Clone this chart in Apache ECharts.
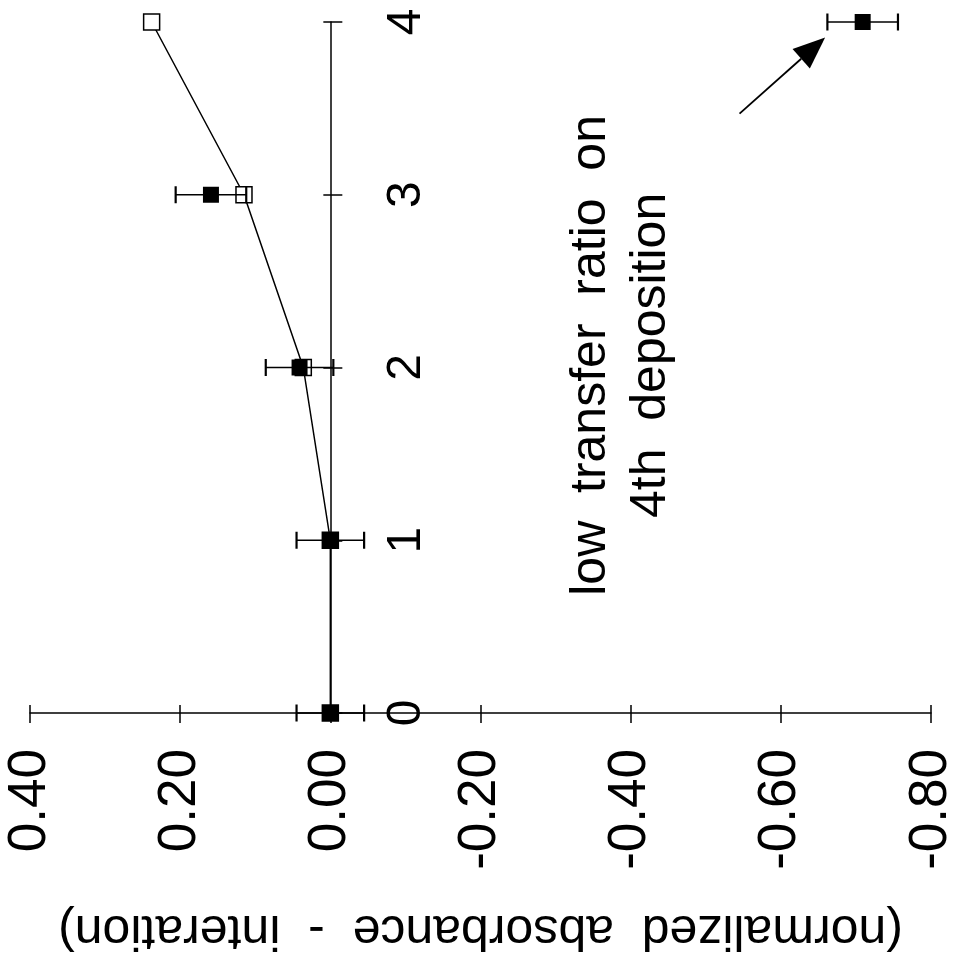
<!DOCTYPE html>
<html>
<head>
<meta charset="utf-8">
<script src="https://cdn.jsdelivr.net/npm/echarts@6/dist/echarts.min.js"></script>
<style>
  html, body { margin: 0; padding: 0; background: #fff; }
  #chart { width: 959px; height: 962px; }
</style>
</head>
<body>
<div id="chart"></div>
<script>
// Deposition number (0..4)
const depositions = [0, 1, 2, 3, 4];
// Expected values (open squares, joined by a line)
const expected = [0.000, 0.000, 0.036, 0.115, 0.238];
// Measured values (filled squares) and their error half-widths
const measured = [0.000, 0.000, 0.041, 0.159, -0.709];
const measuredErr = [0.045, 0.045, 0.045, 0.047, 0.047];
// Annotation anchor and arrow ends, in data units [value, deposition]
const noteAnchor = [-0.387, 2.07];
const arrowTail = [-0.545, 3.47];
const arrowHead = [-0.659, 3.91];

const FONT = 'Liberation Sans';
const BLACK = '#000';

// Plot area and value range
const W = 959, H = 962;
const GRID = { left: 30, right: 28, top: 22, bottom: 249 };
const VMIN = -0.8, VMAX = 0.4;
// The deposition axis is drawn where the value axis passes 0; with the value
// axis inverted, 0 sits (VMAX - 0) / (VMAX - VMIN) of the way from the left.
const plotW = W - GRID.left - GRID.right;
const zeroPx = GRID.left + plotW * (VMAX - 0) / (VMAX - VMIN);
const depAxisOffset = zeroPx - (W - GRID.right);

const chart = echarts.init(document.getElementById('chart'), null, { renderer: 'canvas' });

const valueAxisBase = {
  type: 'value',
  min: VMIN,
  max: VMAX,
  interval: 0.2,
  inverse: true,
  splitLine: { show: false }
};
const depAxisBase = {
  type: 'value',
  min: 0,
  max: 4,
  interval: 1,
  position: 'right',
  offset: depAxisOffset,
  splitLine: { show: false }
};

chart.setOption({
  animation: false,
  backgroundColor: '#fff',
  grid: Object.assign({ containLabel: false, outerBoundsMode: 'none' }, GRID),
  xAxis: [
    Object.assign({}, valueAxisBase, {
      position: 'bottom',
      axisLine: { onZero: false, lineStyle: { color: BLACK, width: 1.5 } },
      axisTick: { show: true, length: 10, lineStyle: { color: BLACK, width: 1.5 } },
      axisLabel: {
        rotate: 90, margin: 36, fontSize: 53, fontFamily: FONT, color: BLACK,
        formatter: v => v.toFixed(2)
      },
      name: '(normalized  absorbance  -  interation)',
      nameLocation: 'middle',
      nameRotate: 180,
      nameGap: 192,
      nameTextStyle: { fontSize: 50, fontFamily: FONT, color: BLACK }
    }),
    Object.assign({}, valueAxisBase, {
      position: 'bottom',
      axisLine: { show: false, onZero: false },
      axisTick: { show: true, inside: true, length: 8, lineStyle: { color: BLACK, width: 1.5 } },
      axisLabel: { show: false }
    })
  ],
  yAxis: [
    Object.assign({}, depAxisBase, {
      axisLine: { onZero: false, lineStyle: { color: BLACK, width: 1.5 } },
      axisTick: { show: true, length: 12, lineStyle: { color: BLACK, width: 1.5 } },
      axisLabel: { rotate: 90, margin: 52, fontSize: 48, fontFamily: FONT, color: BLACK }
    }),
    Object.assign({}, depAxisBase, {
      axisLine: { show: false, onZero: false },
      axisTick: { show: true, inside: true, length: 7, lineStyle: { color: BLACK, width: 1.5 } },
      axisLabel: { show: false }
    })
  ],
  series: [
    {
      name: 'expected',
      type: 'line',
      data: expected.map((v, i) => [v, depositions[i]]),
      symbol: 'rect',
      symbolSize: 16,
      showAllSymbol: true,
      lineStyle: { color: BLACK, width: 1.5 },
      itemStyle: { color: '#fff', borderColor: BLACK, borderWidth: 1.5, opacity: 1 },
      z: 2
    },
    {
      name: 'error',
      type: 'custom',
      data: measured.map((v, i) => [v, depositions[i], measuredErr[i]]),
      encode: { x: 0, y: 1 },
      renderItem(params, api) {
        const v = api.value(0), c = api.value(1), e = api.value(2);
        const a = api.coord([v - e, c]);
        const b = api.coord([v + e, c]);
        const h = 8.5;
        return {
          type: 'group',
          children: [
            { type: 'line', shape: { x1: a[0], y1: a[1], x2: b[0], y2: b[1] }, style: { stroke: BLACK, lineWidth: 1.5 } },
            { type: 'line', shape: { x1: a[0], y1: a[1] - h, x2: a[0], y2: a[1] + h }, style: { stroke: BLACK, lineWidth: 2.2 } },
            { type: 'line', shape: { x1: b[0], y1: b[1] - h, x2: b[0], y2: b[1] + h }, style: { stroke: BLACK, lineWidth: 2.2 } }
          ]
        };
      },
      z: 3
    },
    {
      name: 'measured',
      type: 'scatter',
      data: measured.map((v, i) => [v, depositions[i]]),
      symbol: 'rect',
      symbolSize: 16,
      itemStyle: { color: BLACK, opacity: 1 },
      z: 4
    },
    {
      // Arrow pointing at the 4th deposition
      name: 'arrow',
      type: 'custom',
      data: [[arrowTail[0], arrowTail[1], arrowHead[0], arrowHead[1]]],
      encode: { x: [0, 2], y: [1, 3] },
      renderItem(params, api) {
        const t = api.coord([api.value(0), api.value(1)]);
        const h = api.coord([api.value(2), api.value(3)]);
        const dx = h[0] - t[0], dy = h[1] - t[1];
        const len = Math.sqrt(dx * dx + dy * dy);
        const ux = dx / len, uy = dy / len;
        const headLen = 32, headHalf = 13;
        const bx = h[0] - ux * headLen, by = h[1] - uy * headLen;
        const px = -uy * headHalf, py = ux * headHalf;
        return {
          type: 'group',
          children: [
            { type: 'line', shape: { x1: t[0], y1: t[1], x2: bx, y2: by }, style: { stroke: BLACK, lineWidth: 1.8 } },
            { type: 'polygon', shape: { points: [[h[0], h[1]], [bx + px, by + py], [bx - px, by - py]] }, style: { fill: BLACK } }
          ]
        };
      },
      silent: true,
      z: 5
    },
    {
      name: 'note',
      type: 'scatter',
      data: [noteAnchor],
      symbolSize: 0,
      silent: true,
      itemStyle: { opacity: 1 },
      label: {
        show: true,
        position: 'inside',
        rotate: 90,
        formatter: 'low  transfer  ratio  on\n4th  deposition',
        fontSize: 50,
        lineHeight: 60,
        fontFamily: FONT,
        color: BLACK,
        align: 'center',
        verticalAlign: 'middle'
      },
      z: 5
    }
  ]
});
</script>
</body>
</html>
